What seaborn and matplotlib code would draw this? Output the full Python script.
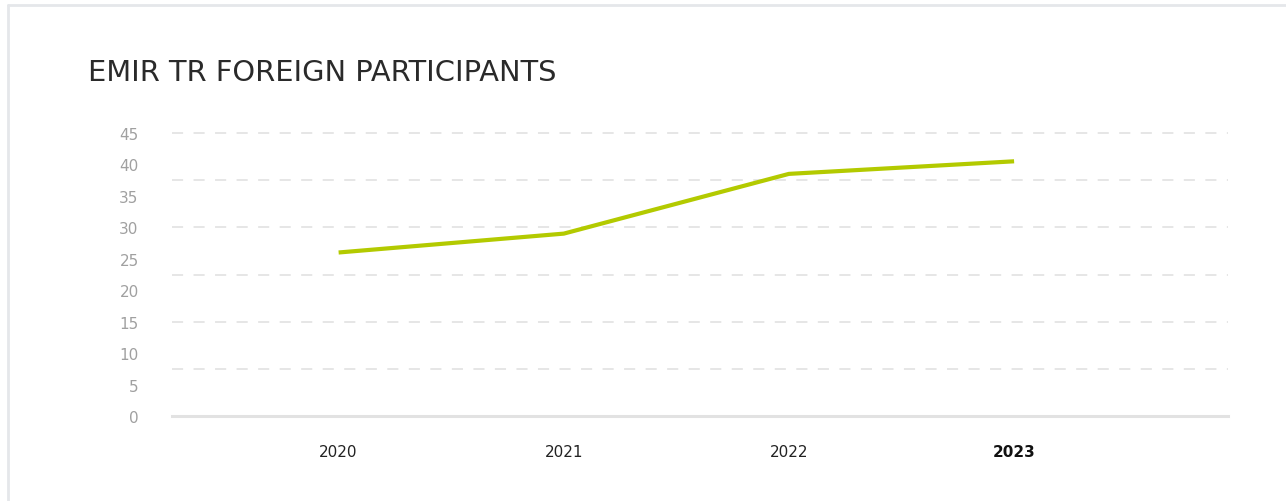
import matplotlib
matplotlib.use("Agg")
import matplotlib.pyplot as plt
from matplotlib.lines import Line2D
import seaborn as sns
import pandas as pd
import numpy as np

# ---- data ----
years = ["2020", "2021", "2022", "2023"]
participants = [26, 29, 38.5, 40.5]
ytick_values = list(range(0, 50, 5))
grid_values = [7.5, 15, 22.5, 30, 37.5, 45]
title = "EMIR TR FOREIGN PARTICIPANTS"

df = pd.DataFrame({"year": years, "participants": participants})

sns.set_theme(style="white")
plt.rcParams["font.family"] = ["DejaVu Sans"]
plt.rcParams["lines.scale_dashes"] = False

W, H, DPI = 1286, 502, 100
fig = plt.figure(figsize=(W / DPI, H / DPI), dpi=DPI)
fig.patch.set_facecolor("white")

left, right = 172 / W, 1228 / W
bottom, top = (H - 417) / H, (H - 134) / H
ax = fig.add_axes([left, bottom, right - left, top - bottom])
ax.set_facecolor("white")

for g in grid_values:
    ax.axhline(g, color="#e4e4e4", linewidth=1.3, linestyle=(0, (8, 7.5)),
               zorder=0, clip_on=False)

sns.lineplot(data=df, x="year", y="participants", ax=ax, color="#b3ca00",
             linewidth=3.0, sort=False, solid_capstyle="butt", zorder=3)

ax.set_ylim(0, 45)
ax.set_xlim(-0.74, 3.95)
ax.set_yticks(ytick_values)
ax.set_yticklabels([str(v) for v in ytick_values])
ax.grid(False)

for s in ["left", "right", "top"]:
    ax.spines[s].set_visible(False)
ax.spines["bottom"].set_color("#e2e2e2")
ax.spines["bottom"].set_linewidth(2.2)

ax.tick_params(axis="y", which="both", length=0, pad=24, labelsize=11,
               labelcolor="#a0a0a0")
ax.tick_params(axis="x", length=0, pad=20, labelsize=11, labelcolor="#222222")
ax.set_xlabel("")
ax.set_ylabel("")
xl = ax.get_xticklabels()
xl[-1].set_fontweight("bold")
xl[-1].set_color("#111111")

fig.text(88 / W, 1 - 81 / H, title, fontsize=20.8, color="#2a2a2a",
         va="baseline", ha="left")

# card border (top & left)
border = "#e5e7ea"
fig.add_artist(Line2D([7.5 / W, 1.0], [1 - 5.5 / H, 1 - 5.5 / H],
                      transform=fig.transFigure, color=border, linewidth=2))
fig.add_artist(Line2D([8 / W, 8 / W], [0, 1 - 5.5 / H],
                      transform=fig.transFigure, color=border, linewidth=2))

fig.savefig("out.png", dpi=DPI, facecolor="white")
